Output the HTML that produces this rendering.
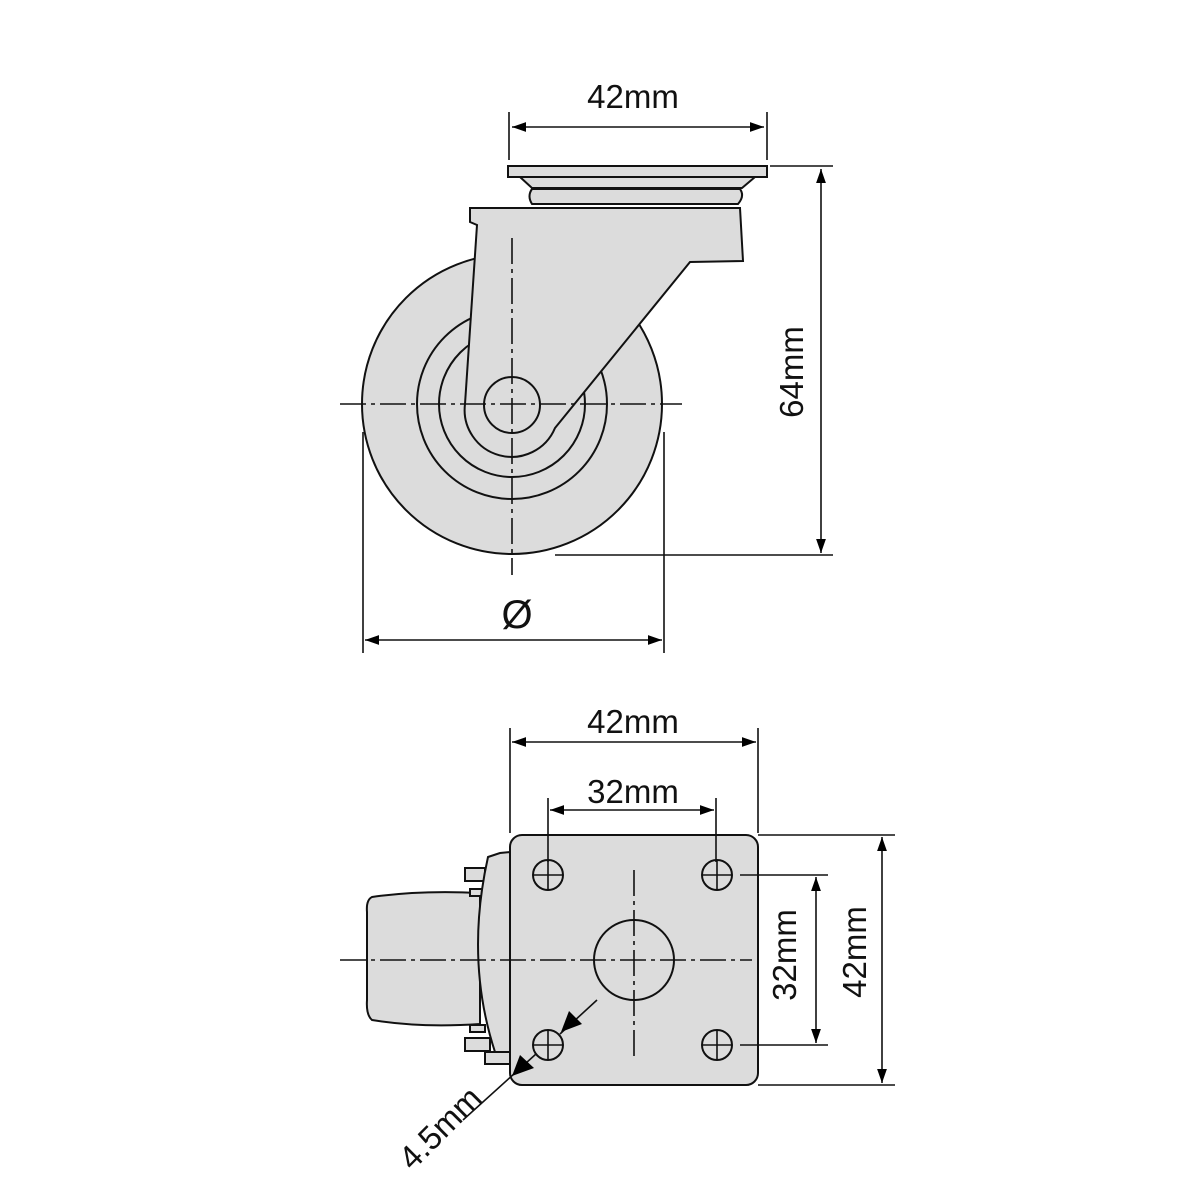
<!DOCTYPE html>
<html><head><style>html,body{margin:0;padding:0;background:#fff}svg{display:block}</style></head><body>
<svg width="1200" height="1200" viewBox="0 0 1200 1200" xmlns="http://www.w3.org/2000/svg" font-family="Liberation Sans, sans-serif">
<defs>
<marker id="a" viewBox="0 0 10 10" refX="10" refY="5" markerWidth="30" markerHeight="14" markerUnits="userSpaceOnUse" orient="auto-start-reverse"><path d="M0,1.5 L10,5 L0,8.5 z" fill="#000"/></marker>
</defs>
<g stroke="#111" stroke-width="2" fill="#dcdcdc">
<circle cx="512" cy="404" r="150"/>
<circle cx="512" cy="404" r="95"/>
<circle cx="512" cy="404" r="73"/>
<rect x="508" y="166" width="259" height="11"/>
<path d="M520,177 L755,177 L742,188 L532,188 Z"/>
<path d="M532,189 L740,189 Q745,196 738,204 L532,204 Q527,196 532,189 Z"/>
<path d="M470,208 L740,208 L743,261 L690,262 L555,428 A47,47 0 0 1 465,404 L477,225 L470,222 Z"/>
<circle cx="512" cy="405" r="28"/>
<path d="M372,897 Q420,890 480,893 L480,1024 Q420,1028 372,1020 Q366,1015 367,1000 L367,912 Q366,900 372,897 Z"/>
<rect x="465" y="868" width="20" height="13"/>
<rect x="470" y="889" width="15" height="7"/>
<rect x="470" y="1025" width="15" height="7"/>
<rect x="465" y="1038" width="25" height="13"/>
<rect x="485" y="1052" width="30" height="12"/>
<path d="M488,857 L500,853 L510,852 L510,1052 L495,1052 Q465,960 488,857 Z"/>
<rect x="510" y="835" width="248" height="250" rx="12"/>
<circle cx="548" cy="875" r="15"/><circle cx="717" cy="875" r="15"/>
<circle cx="548" cy="1045" r="15"/><circle cx="717" cy="1045" r="15"/>
<circle cx="634" cy="960" r="40"/>
</g>
<g stroke="#111" stroke-width="1.6" fill="none">
<path d="M533,875h30M548,860v30M702,875h30M717,860v30M533,1045h30M548,1030v30M702,1045h30M717,1030v30"/>
<path d="M340,404H682M512,238V575M340,960H752M634,870V1060" stroke-dasharray="26,5,4,5"/>
<path d="M509,112V160M767,112V160M770,166H833M555,555H833M363,432V653M664,432V653"/>
<path d="M512,127H764" marker-start="url(#a)" marker-end="url(#a)"/>
<path d="M821,169V553" marker-start="url(#a)" marker-end="url(#a)"/>
<path d="M365,640H662" marker-start="url(#a)" marker-end="url(#a)"/>
<path d="M510,728V833M758,728V833M548,798V862M716,798V862M740,875H828M740,1045H828M758,835H895M758,1085H895"/>
<path d="M512,742H756" marker-start="url(#a)" marker-end="url(#a)"/>
<path d="M550,810H714" marker-start="url(#a)" marker-end="url(#a)"/>
<path d="M816,877V1043" marker-start="url(#a)" marker-end="url(#a)"/>
<path d="M882,837V1083" marker-start="url(#a)" marker-end="url(#a)"/>
<path d="M463,1120L536,1054" />
<path d="M597,1000L560,1034" />
</g>
<path d="M512,1076 L520,1055 L534,1068 Z" fill="#000"/>
<path d="M561,1032 L569,1011 L582,1024 Z" fill="#000"/>
<g font-size="33" fill="#111" text-anchor="middle">
<text x="633" y="108">42mm</text>
<text x="517" y="628" font-size="40">Ø</text>
<text transform="translate(803,372) rotate(-90)">64mm</text>
<text x="633" y="733">42mm</text>
<text x="633" y="803">32mm</text>
<text transform="translate(796,955) rotate(-90)">32mm</text>
<text transform="translate(866,952) rotate(-90)">42mm</text>
<text transform="translate(448,1136) rotate(-45)">4.5mm</text>
</g>
</svg>
</body></html>
